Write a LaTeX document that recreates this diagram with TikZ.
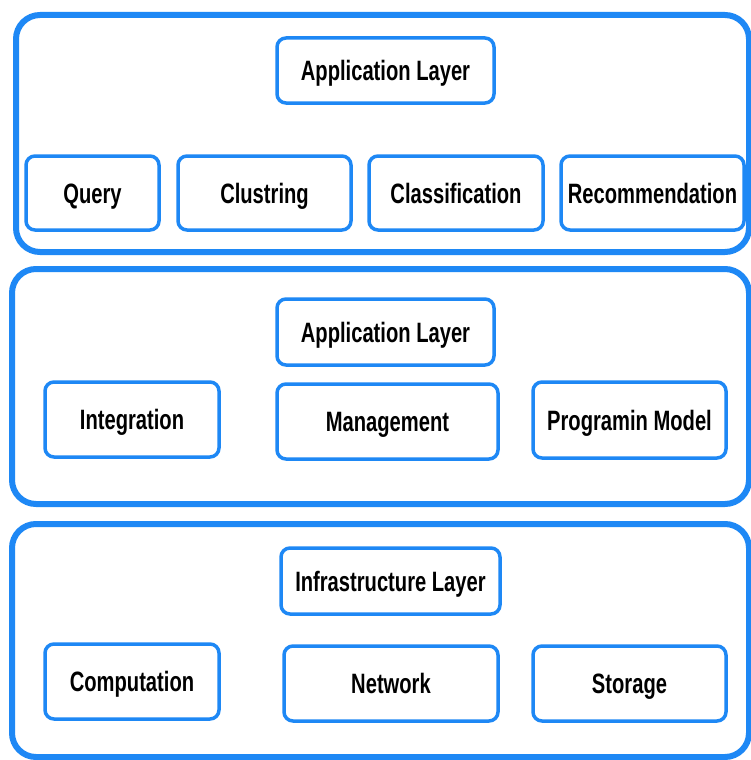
\documentclass[tikz,border=0pt]{standalone}
\usepackage{fontspec}
\newfontfamily\boxfont{Liberation Sans}[FakeStretch=0.72]
\definecolor{layerblue}{HTML}{1E88F5}
\tikzset{
  layer/.style={draw=layerblue, line width=6pt, rounded corners=24pt, inner sep=0pt},
  unit/.style={draw=layerblue, line width=3.5pt, rounded corners=9pt, fill=white,
    inner sep=0pt, align=center, text height=20pt, text depth=0pt,
    font=\boxfont\bfseries\fontsize{28}{32}\selectfont, text=black},
}
% place a box by its corners (x1,y1) and (x2,y2), y measured downward
\newcommand\boxat[6]{%
  \node[#1, minimum width={(#5-#3)*1pt}, minimum height={(#6-#4)*1pt}]
    (#2) at ({(#3+#5)/2},{(#4+#6)/2}) {}}
\newcommand\unitat[6]{%
  \node[unit, minimum width={(#4-#2)*1pt}, minimum height={(#5-#3)*1pt}]
    (#1) at ({(#2+#4)/2},{(#3+#5)/2}) {#6}}
\begin{document}
\begin{tikzpicture}[x=1pt,y=-1pt]
\useasboundingbox[fill=white] (0,0) rectangle (751,760);

% three layer frames
\boxat{layer}{top}{16}{15}{749}{252};
\boxat{layer}{mid}{12}{269}{749}{504};
\boxat{layer}{bot}{12}{524}{749}{757};

% top layer
\unitat{app1}{277}{38}{494}{103}{Application Layer};
\unitat{query}{26}{156}{159}{230}{Query};
\unitat{clust}{178}{156}{351}{230}{Clustring};
\unitat{classif}{369}{156}{543}{230}{Classification};
\unitat{recom}{561}{156}{744}{230}{Recommendation};

% middle layer
\unitat{app2}{277}{299}{494}{365}{Application Layer};
\unitat{integ}{45}{382}{219}{457}{Integration};
\unitat{manage}{277}{384}{498}{459}{Management};
\unitat{prog}{533}{382}{726}{458}{Programin Model};

% infrastructure layer
\unitat{infra}{281}{548}{500}{614}{Infrastructure Layer};
\unitat{comp}{45}{644}{219}{719}{Computation};
\unitat{net}{284}{646}{498}{721}{Network};
\unitat{store}{533}{646}{726}{721}{Storage};
\end{tikzpicture}
\end{document}
